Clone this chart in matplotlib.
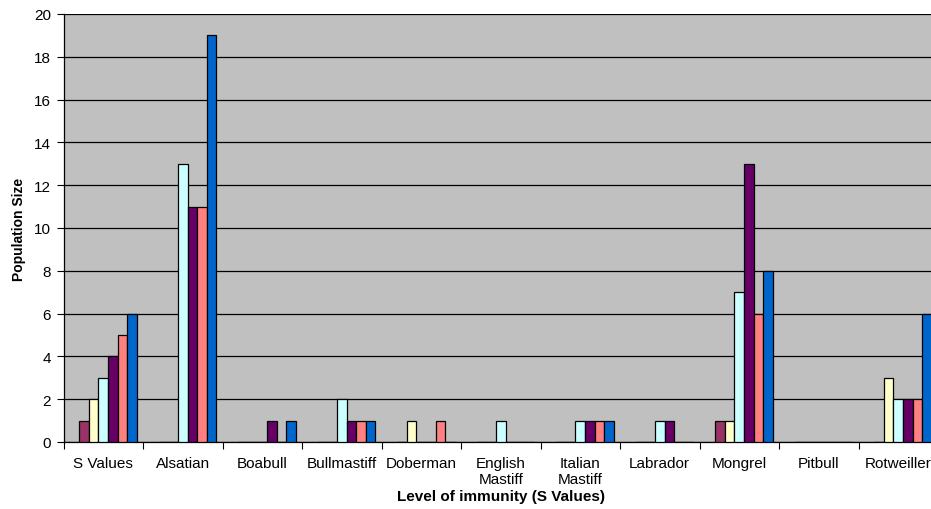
import matplotlib
matplotlib.use("Agg")
import matplotlib.pyplot as plt
import numpy as np

categories = ["S Values", "Alsatian", "Boabull", "Bullmastiff", "Doberman",
              "English\nMastiff", "Italian\nMastiff", "Labrador", "Mongrel",
              "Pitbull", "Rotweiller"]
s1 = [1, 0, 0, 0, 0, 0, 0, 0, 1, 0, 0]
s2 = [2, 0, 0, 0, 1, 0, 0, 0, 1, 0, 3]
s3 = [3, 13, 0, 2, 0, 1, 1, 1, 7, 0, 2]
s4 = [4, 11, 1, 1, 0, 0, 1, 1, 13, 0, 2]
s5 = [5, 11, 0, 1, 1, 0, 1, 0, 6, 0, 2]
s6 = [6, 19, 1, 1, 0, 0, 1, 0, 8, 0, 6]
series = [s1, s2, s3, s4, s5, s6]
colors = ["#993366", "#FFFFCC", "#CCFFFF", "#660066", "#FF8080", "#0066CC"]

plt.rcParams["font.family"] = ["Liberation Sans", "DejaVu Sans"]

fig = plt.figure(figsize=(9.31, 5.10), dpi=100)
left = 63.5 / 931
right = 938 / 931
bottom = 1 - 443 / 510
top = 1 - 15 / 510
ax = fig.add_axes([left, bottom, right - left, top - bottom])
ax.set_facecolor("#C0C0C0")

n = len(categories)
x = np.arange(n) + 0.5
bw = 0.12
for i, (vals, c) in enumerate(zip(series, colors)):
    ax.bar(x + (i - 2.0) * bw, vals, width=bw, color=c, edgecolor="black",
           linewidth=0.9, zorder=3)

ax.set_xlim(0, n)
ax.set_ylim(0, 20)
ax.set_yticks(np.arange(0, 21, 2))
ax.yaxis.grid(True, color="black", linewidth=0.9, zorder=1)
ax.set_axisbelow(True)
ax.set_xticks(np.arange(0, n + 1))
ax.set_xticklabels([])
ax.set_xticks(x, minor=True)
ax.set_xticklabels(categories, minor=True, fontsize=11, linespacing=1.2)
ax.tick_params(axis="x", which="minor", length=0, pad=10)
ax.tick_params(axis="x", which="major", length=5, direction="out", width=0.8)
ax.tick_params(axis="y", length=5, direction="out", width=0.8, labelsize=11, pad=4)
for s in ["top", "right"]:
    ax.spines[s].set_visible(False)
ax.spines["left"].set_linewidth(0.9)
ax.spines["bottom"].set_linewidth(0.9)

ax.set_ylabel("Population Size", fontsize=10, fontweight="bold", labelpad=6)
fig.text(501 / 931, 1 - 497 / 510, "Level of immunity (S Values)", fontsize=11,
         fontweight="bold", ha="center", va="center")

fig.savefig("out.png", dpi=100, facecolor="white")
